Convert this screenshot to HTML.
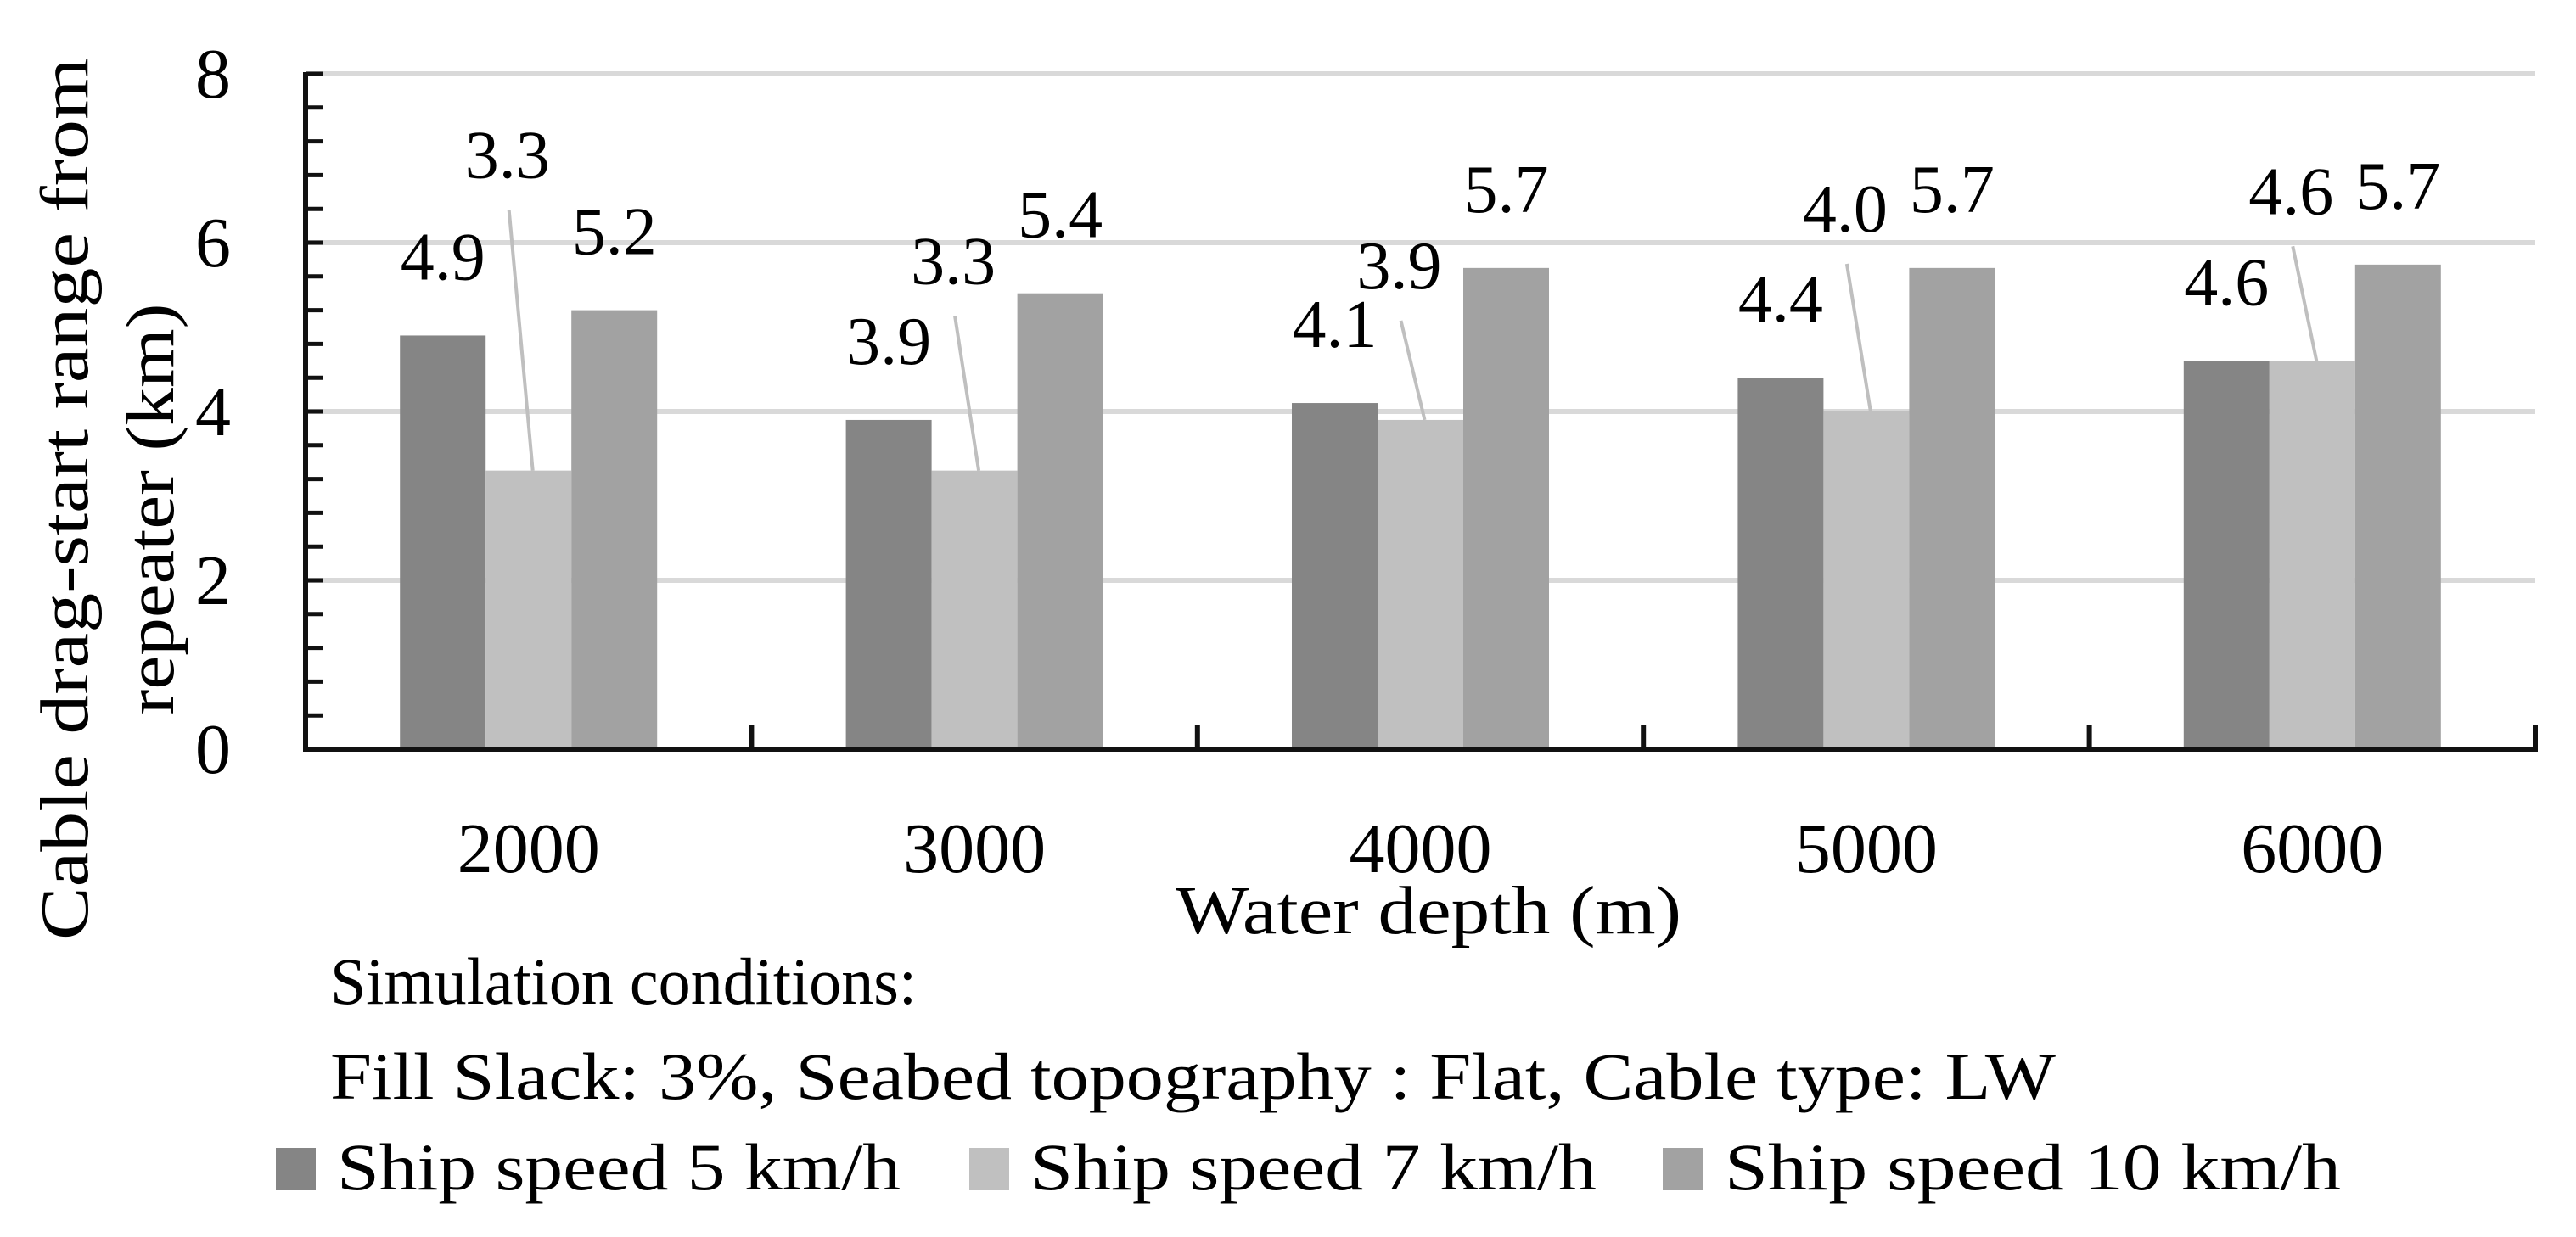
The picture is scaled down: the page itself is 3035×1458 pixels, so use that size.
<!DOCTYPE html>
<html><head><meta charset="utf-8"><style>
html,body{margin:0;padding:0;background:#fff;}
svg{display:block;font-family:"Liberation Serif",serif;}
</style></head><body>
<svg id="chart" width="3035" height="1458" viewBox="0 0 3035 1458" xmlns="http://www.w3.org/2000/svg">
<g id="grid"></g>
<g id="bars"></g>
<g id="labels"></g>
<g id="axes"></g>
<g font-size="80" fill="#000" text-anchor="middle">
<text transform="translate(103,588) rotate(-90)" textLength="1040" lengthAdjust="spacingAndGlyphs">Cable drag-start range from</text>
<text transform="translate(204,600) rotate(-90)" textLength="485" lengthAdjust="spacingAndGlyphs">repeater (km)</text>
</g>
<text x="1385" y="1100" font-size="80" textLength="596" lengthAdjust="spacingAndGlyphs">Water depth (m)</text>
<text x="389" y="1183" font-size="78" textLength="691" lengthAdjust="spacingAndGlyphs">Simulation conditions:</text>
<text x="389" y="1295" font-size="78" textLength="2033" lengthAdjust="spacingAndGlyphs">Fill Slack: 3%, Seabed topography : Flat, Cable type: LW</text>
<g font-size="78">
<g><rect x="325" y="1353" width="47" height="50" fill="#858585"/><text x="397" y="1402" textLength="664" lengthAdjust="spacingAndGlyphs">Ship speed 5 km/h</text></g>
<g><rect x="1142" y="1353" width="47" height="50" fill="#c0c0c0"/><text x="1214" y="1402" textLength="667" lengthAdjust="spacingAndGlyphs">Ship speed 7 km/h</text></g>
<g><rect x="1959" y="1353" width="47" height="50" fill="#a2a2a2"/><text x="2032" y="1402" textLength="726" lengthAdjust="spacingAndGlyphs">Ship speed  10 km/h</text></g>
</g>
</svg>
<script>
const categories = ["2000","3000","4000","5000","6000"];
const speed5 = [4.9, 3.9, 4.1, 4.4, 4.6];
const speed7 = [3.3, 3.3, 3.9, 4.0, 4.6];
const speed10 = [5.2, 5.4, 5.7, 5.7, 5.74];
const yTicks = [0, 2, 4, 6, 8];
const lightLabelLift = [345, 220, 155, 212, 173];

const NS = "http://www.w3.org/2000/svg";
const X0 = 360, X1 = 2987, Y0 = 883, Y8 = 87;
const yMax = 8;
function y(v){ return Y0 - (v / yMax) * (Y0 - Y8); }
const catW = (X1 - X0) / categories.length;
function xc(i){ return X0 + catW * (i + 0.5); }
const barW = 101;
function mk(tag, attrs, parent){ const e = document.createElementNS(NS, tag); for (const k in attrs) e.setAttribute(k, attrs[k]); parent.appendChild(e); return e; }

const grid = document.getElementById('grid');
const bars = document.getElementById('bars');
const labels = document.getElementById('labels');
const axes = document.getElementById('axes');

yTicks.forEach(t => {
  if (t > 0) {
    const g = mk('line', {x1: X0, x2: X1, y1: y(t), y2: y(t), stroke: '#d9d9d9', 'stroke-width': 6}, grid);
    
    
  }
  const tl = mk('text', {x: 272, y: y(t) + 28, 'font-size': 84, 'text-anchor': 'end'}, axes);
  tl.textContent = t;
  
  
});

const series = [
  {vals: speed5, color: '#858585', name: '5kmh', off: -1},
  {vals: speed7, color: '#c0c0c0', name: '7kmh', off: 0},
  {vals: speed10, color: '#a2a2a2', name: '10kmh', off: 1}
];
categories.forEach((c, i) => {
  series.forEach(s => {
    const v = s.vals[i];
    const cx = xc(i) + s.off * barW;
    const r = mk('rect', {x: cx - barW/2, y: y(v), width: barW, height: Y0 - y(v), fill: s.color}, bars);
    
    
    let lx = cx, ly = y(v) - 66;
    if (s.off === 0) {
      lx = cx - 25; ly = y(v) - lightLabelLift[i];
      const ld = mk('line', {x1: lx + 2, y1: ly + 38, x2: cx + 5, y2: y(v), stroke: '#bfbfbf', 'stroke-width': 4}, labels);
      
      
    }
    const t = mk('text', {x: lx, y: ly, 'font-size': 80, 'text-anchor': 'middle'}, labels);
    t.textContent = v.toFixed(1);
    
    
  });
  const xl = mk('text', {x: xc(i), y: 1028, 'font-size': 84, 'text-anchor': 'middle'}, axes);
  xl.textContent = c;
  
  
});

for (let k = 0; k <= 20; k++) {
  const ty = Y0 - k * (Y0 - Y8) / 20;
  const tk = mk('line', {x1: X0, x2: X0 + 20, y1: ty, y2: ty, stroke: '#111', 'stroke-width': 5}, axes);
  
  
}
for (let k = 1; k <= categories.length; k++) {
  const tx = X0 + k * catW;
  const tk = mk('line', {x1: tx, x2: tx, y1: 855, y2: Y0, stroke: '#111', 'stroke-width': 6}, axes);
  
  
}
const ya = mk('line', {x1: X0, x2: X0, y1: Y8 - 2, y2: Y0 + 3, stroke: '#111', 'stroke-width': 6}, axes);


const xa = mk('line', {x1: X0 - 3, x2: X1 + 3, y1: Y0, y2: Y0, stroke: '#111', 'stroke-width': 6}, axes);


</script>
</body></html>
